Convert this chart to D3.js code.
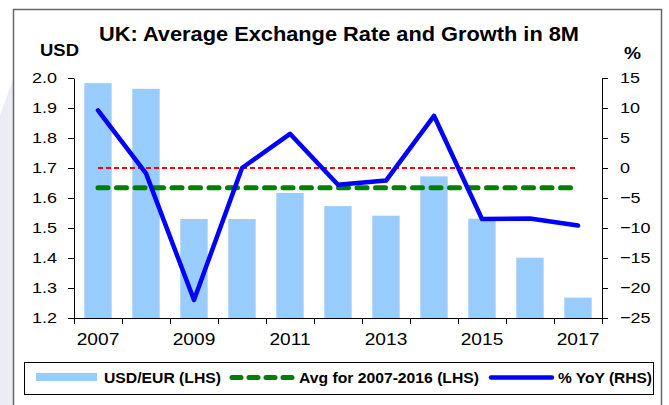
<!DOCTYPE html>
<html>
<head>
<meta charset="utf-8">
<script src="https://cdn.jsdelivr.net/npm/d3@7/dist/d3.min.js"></script>
<style>
  html, body { margin: 0; padding: 0; background: #ffffff; }
  svg { display: block; }
  text { font-family: "Liberation Sans", Arial, sans-serif; fill: #000; }
</style>
</head>
<body>
<svg id="chart" width="669" height="405"></svg>
<script>
// ---- data ----
const years = ["2007","2008","2009","2010","2011","2012","2013","2014","2015","2016","2017"];
const usdEur = [1.983, 1.964, 1.530, 1.530, 1.617, 1.573, 1.541, 1.672, 1.531, 1.401, 1.268];
const yoyPct = [9.6, -0.9, -22.0, 0.0, 5.7, -2.8, -2.1, 8.7, -8.5, -8.4, -9.6];
const avg2007to2016 = 1.634;
const zeroPct = 0;
const leftTicks = [1.2, 1.3, 1.4, 1.5, 1.6, 1.7, 1.8, 1.9, 2.0];
const rightTicks = [-25, -20, -15, -10, -5, 0, 5, 10, 15];
const xLabelYears = ["2007","2009","2011","2013","2015","2017"];
const legendLabels = ["USD/EUR (LHS)", "Avg for 2007-2016 (LHS)", "% YoY (RHS)"];

const SX = 1.16; // horizontal stretch of the reference text
const svg = d3.select("#chart");

// background watermark strip on the left
svg.append("path")
  .attr("d", "M0,115 L13,80 L13,405 L0,405 Z")
  .attr("fill", "#ececf5");

// outer frame
svg.append("rect")
  .attr("x", 13.5).attr("y", 9.5).attr("width", 648).attr("height", 410)
  .attr("fill", "#fff").attr("stroke", "#666").attr("stroke-width", 1.5);

const plotL = 74, plotR = 602, plotT = 78, plotB = 318;

const x = d3.scaleBand().domain(years).range([plotL, plotR])
  .paddingInner(0.43).paddingOuter(0.215);
const xEdge = d3.scaleLinear().domain([0, years.length]).range([plotL, plotR]);
const yL = d3.scaleLinear().domain([1.2, 2.0]).range([plotB, plotT]);
const yR = d3.scaleLinear().domain([-25, 15]).range([plotB, plotT]);
const cx = d => x(d) + x.bandwidth() / 2;

// bars
svg.append("g").selectAll("rect").data(years).join("rect")
  .attr("x", d => x(d))
  .attr("y", (d, i) => yL(usdEur[i]))
  .attr("width", x.bandwidth())
  .attr("height", (d, i) => yL(1.2) - yL(usdEur[i]))
  .attr("fill", "#99ccff");

// red zero line (RHS)
svg.append("line")
  .attr("x1", cx(years[0])).attr("x2", cx(years[years.length - 1]))
  .attr("y1", yR(zeroPct)).attr("y2", yR(zeroPct))
  .attr("stroke", "#ff0000").attr("stroke-width", 2)
  .attr("stroke-dasharray", "5,3");

// green average line (LHS)
svg.append("line")
  .attr("x1", cx(years[0])).attr("x2", cx(years[years.length - 1]) - 6)
  .attr("y1", yL(avg2007to2016)).attr("y2", yL(avg2007to2016))
  .attr("stroke", "#008000").attr("stroke-width", 5)
  .attr("stroke-linecap", "round")
  .attr("stroke-dasharray", "10,8.5");

// blue YoY line
svg.append("path")
  .datum(years)
  .attr("d", d3.line().x(d => cx(d)).y((d, i) => yR(yoyPct[i])))
  .attr("fill", "none").attr("stroke", "#0000ff").attr("stroke-width", 4.5)
  .attr("stroke-linejoin", "round").attr("stroke-linecap", "round");

function stretchTexts(g, anchorX) {
  g.selectAll("text")
    .attr("x", anchorX / SX)
    .attr("transform", `scale(${SX},1)`);
}

// left axis
const gL = svg.append("g").attr("transform", `translate(${plotL},0)`)
  .call(d3.axisLeft(yL).tickValues(leftTicks).tickSize(6).tickSizeOuter(0)
    .tickPadding(11).tickFormat(d3.format(".1f")));
gL.selectAll("text").style("font-size", "15.5px");
stretchTexts(gL, -17);

// right axis
const gR = svg.append("g").attr("transform", `translate(${plotR},0)`)
  .call(d3.axisRight(yR).tickValues(rightTicks).tickSize(6).tickSizeOuter(0)
    .tickPadding(12).tickFormat(d3.format("d")));
gR.selectAll("text").style("font-size", "15.5px");
stretchTexts(gR, 18);

// bottom axis: tick marks at category edges
const gB = svg.append("g").attr("transform", `translate(0,${plotB})`)
  .call(d3.axisBottom(xEdge).tickValues(d3.range(years.length + 1))
    .tickSize(6).tickSizeOuter(0).tickFormat(""));
// bottom labels
const gBL = svg.append("g").attr("transform", `translate(0,${plotB})`)
  .call(d3.axisBottom(x).tickValues(xLabelYears).tickSize(0).tickPadding(15));
gBL.select(".domain").remove();
gBL.selectAll("text").style("font-size", "16.5px");
stretchTexts(gBL, 0);

[gL, gR, gB].forEach(g => {
  g.selectAll("line, path").attr("stroke", "#000").attr("stroke-width", 1);
});

// titles
svg.append("text").attr("x", 99).attr("y", 41)
  .attr("textLength", 480).attr("lengthAdjust", "spacingAndGlyphs")
  .style("font-size", "19.5px").style("font-weight", "bold")
  .text("UK: Average Exchange Rate and Growth in 8M");
svg.append("text").attr("x", 40).attr("y", 56)
  .attr("textLength", 39).attr("lengthAdjust", "spacingAndGlyphs")
  .style("font-size", "17px").style("font-weight", "bold").text("USD");
svg.append("text").attr("x", 624).attr("y", 59)
  .attr("textLength", 17).attr("lengthAdjust", "spacingAndGlyphs")
  .style("font-size", "17px").style("font-weight", "bold").text("%");

// legend
const lg = svg.append("g");
lg.append("rect").attr("x", 24.5).attr("y", 362.5).attr("width", 629).attr("height", 32)
  .attr("fill", "#fff").attr("stroke", "#000").attr("stroke-width", 1);
lg.append("rect").attr("x", 36).attr("y", 373).attr("width", 61).attr("height", 8)
  .attr("fill", "#99ccff");
lg.append("line").attr("x1", 232).attr("x2", 293).attr("y1", 377.5).attr("y2", 377.5)
  .attr("stroke", "#008000").attr("stroke-width", 5).attr("stroke-linecap", "round")
  .attr("stroke-dasharray", "9,8");
lg.append("line").attr("x1", 491).attr("x2", 552).attr("y1", 377.5).attr("y2", 377.5)
  .attr("stroke", "#0000ff").attr("stroke-width", 4.5).attr("stroke-linecap", "round");
const legendPos = [[104, 117], [299, 180], [558, 94]];
legendLabels.forEach((t, i) => {
  lg.append("text").attr("x", legendPos[i][0]).attr("y", 382.5)
    .attr("textLength", legendPos[i][1]).attr("lengthAdjust", "spacingAndGlyphs")
    .style("font-size", "14.5px").style("font-weight", "bold").text(t);
});
</script>
</body>
</html>
